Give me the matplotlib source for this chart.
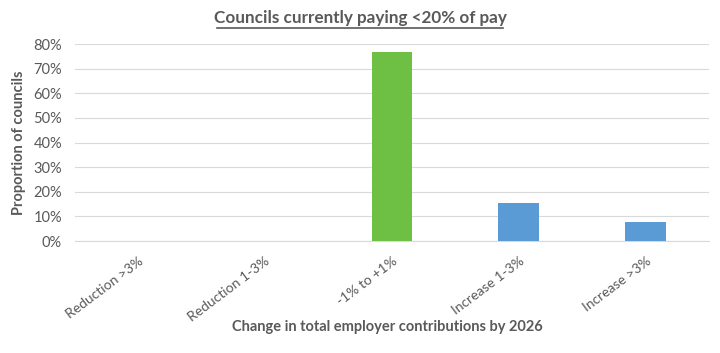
import matplotlib.pyplot as plt
from matplotlib.ticker import PercentFormatter

categories = ["Reduction >3%", "Reduction 1-3%", "-1% to +1%", "Increase 1-3%", "Increase >3%"]
values = [0, 0, 0.769, 0.154, 0.077]
colors = ["#5B9BD5", "#5B9BD5", "#6DC043", "#5B9BD5", "#5B9BD5"]

plt.rcParams['font.family'] = ['Lato', 'DejaVu Sans']
txt = "#595959"

fig = plt.figure(figsize=(7.2, 3.53), dpi=100)
ax = fig.add_axes([0.1035, 0.317, 0.8815, 0.558])

ax.bar(range(len(categories)), values, width=0.32, color=colors, zorder=3)
ax.set_xlim(-0.5, len(categories) - 0.5)
ax.set_ylim(0, 0.8)
ax.set_yticks([i / 10 for i in range(9)])
ax.yaxis.set_major_formatter(PercentFormatter(1.0, decimals=0))
ax.grid(axis='y', color="#D9D9D9", linewidth=0.8, zorder=0)
for s in ["top", "right", "left"]:
    ax.spines[s].set_visible(False)
ax.spines["bottom"].set_color("#D9D9D9")
ax.tick_params(length=0, colors=txt, labelsize=10.5)
ax.tick_params(axis='y', pad=9)
ax.set_xticks(range(len(categories)))
ax.set_xticklabels(categories, rotation=37, ha='right', rotation_mode='anchor', fontsize=10)
ax.tick_params(axis='x', pad=10)

ax.set_ylabel("Proportion of councils", fontsize=10.5, fontweight='bold', color=txt, labelpad=5)
fig.text(0.538, 1 - 327 / 353, "Change in total employer contributions by 2026", ha='center', va='center',
         fontsize=10.5, fontweight='bold', color=txt)
fig.text(0.5, 0.95, "Councils currently paying <20% of pay", ha='center', va='center',
         fontsize=12.3, fontweight='bold', color=txt)
# underline
fig.add_artist(plt.Line2D([0.302, 0.698], [0.92, 0.92], color=txt, linewidth=1.2))

fig.savefig("out.png", dpi=100)
